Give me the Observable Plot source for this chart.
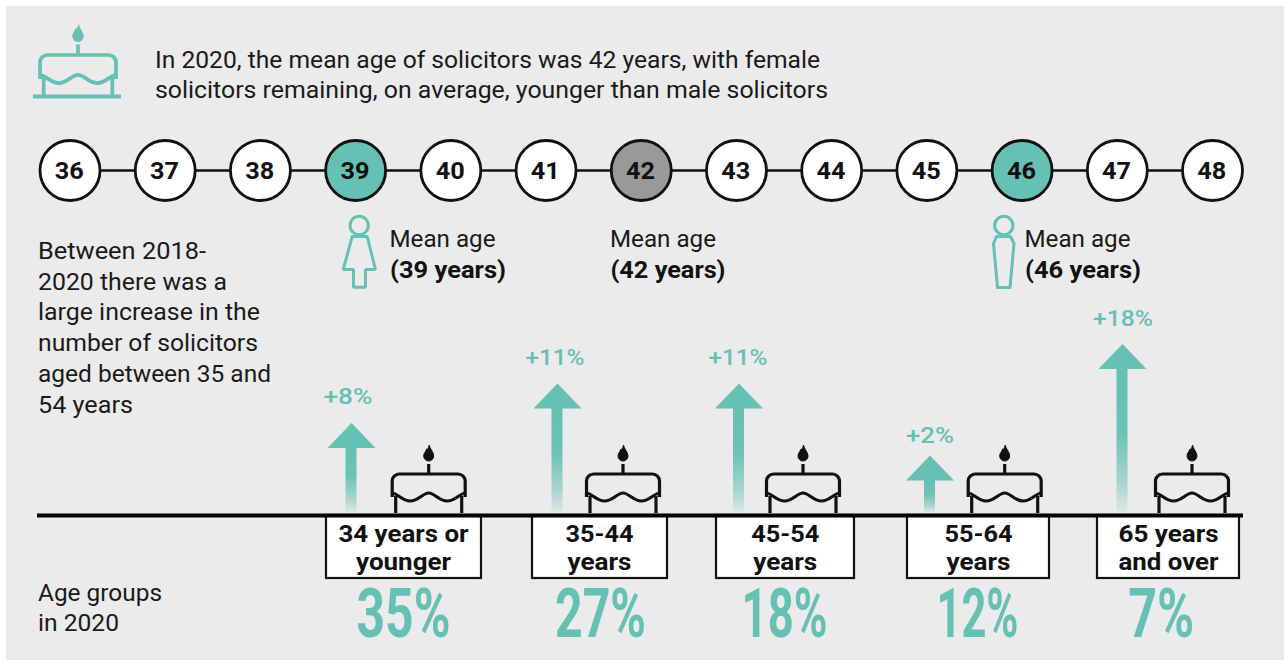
<!DOCTYPE html>
<html><head><meta charset="utf-8">
<style>html,body{margin:0;padding:0;background:#fff}svg{display:block}</style>
<script src="https://cdn.jsdelivr.net/npm/d3@7"></script>
<script src="https://cdn.jsdelivr.net/npm/@observablehq/plot@0.6"></script>
</head><body><div id="chart"></div>
<script>
// ---- data ----
const ages = [36,37,38,39,40,41,42,43,44,45,46,47,48];
const femaleMean = 39, overallMean = 42, maleMean = 46;
const groupLabels = [["34 years or","younger"],["35-44","years"],["45-54","years"],["55-64","years"],["65 years","and over"]];
const shares = [35,27,18,12,7];
const changes = [8,11,11,2,18];
const titleLines = ["In 2020, the mean age of solicitors was 42 years, with female","solicitors remaining, on average, younger than male solicitors"];
const noteLines = ["Between 2018-","2020 there was a","large increase in the","number of solicitors","aged between 35 and","54 years"];
const footLines = ["Age groups","in 2020"];

// ---- layout of the infographic ----
const W = 1284, H = 660, TEAL = "#66c0b3", INK = "#111", FONT = "Roboto, sans-serif";
const ageX = d3.scaleLinear([36,48],[69.5,1212]);
const growthTop = d3.scaleLinear([0,2,8,11,18],[513,455,422.5,383,343.5]);
const BASE = 515;
const boxes = [[326,481],[532,667],[716,854],[907,1049],[1097,1239]];
const arrowX = [351,557,738.5,929.5,1122];
const cakeX = [428.7,623,803,1004.7,1192];
const labelX = [348,555,738,930,1123];
const labelOff = [19,19,19,13,18];
const labelW = [49,59,59,48,60];
const boxTextX = [403,599,784.7,978,1168];
const boxTextW = [[130,95],[68,64],[68,64],[68,64],[100,100]];
const shareX = [403,600,784,977,1160.7];
const shareW = [94,91,86,82,66];
const titleW = [665,673], noteW = [168,189,222,220,233,95], footW = [124,81];

const groups = d3.range(5);
const fits = [];
function label(rows, opts) {
  rows.forEach(r => fits.push(r.w));
  return Plot.text(rows, {x:"x", y:"y", text:"t", lineAnchor:"bottom", fontFamily:FONT, ...opts});
}

const cakePath = "M-36.5,23V7A7,7 0 0 1 -29.5,0H29.5A7,7 0 0 1 36.5,7V23" +
  "M-37,19C-31,19 -27,27 -18.5,27C-10,27 -6,19 0,19C6,19 10,27 18.5,27C27,27 31,19 37,19" +
  "M-33,22V39M33,22V39M0,-10V0";
const flamePath = "M0.5,-29C1,-25 5,-22 5,-18A5,5 0 1 1 -5,-18C-5,-21 -3,-22 -2,-25C-1,-24 0,-26 0.5,-29Z";
function cake(cx, top, color, k, sw) {
  return (index, {x, y}) => {
    const g = d3.create("svg:g").attr("transform", `translate(${x(cx)},${y(top)}) scale(${k})`);
    g.append("path").attr("d", cakePath).attr("fill","none").attr("stroke",color).attr("stroke-width",sw).attr("stroke-linejoin","round");
    g.append("path").attr("d", flamePath).attr("fill",color).attr("stroke",color).attr("stroke-width",1);
    return g.node();
  };
}
const gradient = () => {
  const s = d3.create("svg:defs");
  const lg = s.append("linearGradient").attr("id","fade").attr("x1",0).attr("x2",0).attr("y1",0).attr("y2",1);
  [[0,1],[0.45,0.95],[0.8,0.5],[1,0.1]].forEach(([o,a]) =>
    lg.append("stop").attr("offset",o).attr("stop-color",TEAL).attr("stop-opacity",a));
  return s.node();
};

const heads = groups.flatMap(i => {
  const t = growthTop(changes[i]);
  return [[arrowX[i],t],[arrowX[i]+24,t+25],[arrowX[i]-24,t+25]].map(([x,y]) => ({x,y,i}));
});
const female = [[351.7,236],[366.7,236],[375,269],[365,269],[365,286.7],[353,286.7],[353,269],[342.7,269],[351.7,236]].map(([x,y])=>({x,y}));
const male = [[996,236],[1010,236],[1013.5,243],[1009.5,287],[997,287],[993,243],[996,236]].map(([x,y])=>({x,y}));

const plot = Plot.plot({
  width: W, height: H, margin: 0,
  x: {domain:[0,W], range:[0,W], axis:null},
  y: {domain:[0,H], range:[0,H], axis:null},
  marks: [
    gradient,
    Plot.rect([0], {x1:()=>6, x2:()=>W, y1:()=>6, y2:()=>H, fill:"#ebebeb"}),
    // header cake
    cake(78, 55, TEAL, 1.04, 3.6),
    Plot.ruleY([96], {x1:33, x2:121, stroke:TEAL, strokeWidth:4}),
    label(titleLines.map((t,i)=>({t, x:154.5, y:67.5+30*i, w:titleW[i]})), {fontSize:24, textAnchor:"start", fill:"#1a1a1a"}),
    // age line
    Plot.ruleY([170], {x1:ageX(36), x2:ageX(48), stroke:INK, strokeWidth:2.5}),
    Plot.dot(ages, {x:ageX, y:()=>170, r:30, stroke:INK, strokeWidth:2.8,
      fill:a => a===femaleMean||a===maleMean ? TEAL : a===overallMean ? "#999" : "#fff"}),
    label(ages.map(a=>({t:String(a), x:ageX(a)-0.7, y:178, w:29})), {fontSize:24, fontWeight:700, textAnchor:"middle", fill:INK}),
    // mean age callouts
    label([{t:"Mean age",x:389,y:246,w:106},{t:"Mean age",x:609.5,y:246,w:106},{t:"Mean age",x:1024,y:246,w:106}], {fontSize:23, textAnchor:"start", fill:"#1a1a1a"}),
    label([{t:`(${femaleMean} years)`,x:389.5,y:277,w:116},{t:`(${overallMean} years)`,x:610,y:277,w:115},{t:`(${maleMean} years)`,x:1024.5,y:277,w:116}], {fontSize:23, fontWeight:700, textAnchor:"start", fill:INK}),
    Plot.dot([0], {x:()=>358.7, y:()=>225, r:9.2, fill:"none", stroke:TEAL, strokeWidth:3}),
    Plot.line(female, {x:"x", y:"y", stroke:TEAL, strokeWidth:3, strokeLinejoin:"miter"}),
    Plot.dot([0], {x:()=>1003.3, y:()=>225, r:9.2, fill:"none", stroke:TEAL, strokeWidth:3}),
    Plot.line(male, {x:"x", y:"y", stroke:TEAL, strokeWidth:3}),
    // left notes
    label(noteLines.map((t,i)=>({t, x:37.5, y:258.5+30.7*i, w:noteW[i]})), {fontSize:23, textAnchor:"start", fill:"#1a1a1a"}),
    label(footLines.map((t,i)=>({t, x:37.5, y:600.5+30*i, w:footW[i]})), {fontSize:23, textAnchor:"start", fill:"#1a1a1a"}),
    // arrows
    Plot.rect(groups, {x1:i=>arrowX[i]-5.5, x2:i=>arrowX[i]+5.5, y1:i=>growthTop(changes[i])+24, y2:()=>512, fill:"url(#fade)"}),
    Plot.line(heads, {x:"x", y:"y", z:"i", fill:TEAL, stroke:"none"}),
    label(groups.map(i=>({t:`+${changes[i]}%`, x:labelX[i]-0.5, y:growthTop(changes[i])-labelOff[i], w:labelW[i]})), {fontSize:22, fontWeight:500, textAnchor:"middle", fill:TEAL}),
    // cakes
    ...groups.map(i => cake(cakeX[i], 474, INK, 1, 3.2)),
    // boxes
    Plot.rect(groups, {x1:i=>boxes[i][0], x2:i=>boxes[i][1], y1:()=>BASE, y2:()=>578, fill:"#fff", stroke:INK, strokeWidth:2.2}),
    Plot.ruleY([BASE], {x1:37, x2:1243, stroke:"#000", strokeWidth:4}),
    label(groups.flatMap(i=>groupLabels[i].map((t,j)=>({t, x:boxTextX[i], y:(j?569:541.5), w:boxTextW[i][j]}))), {fontSize:24, fontWeight:700, textAnchor:"middle", fill:INK}),
    // shares
    label(groups.map(i=>({t:`${shares[i]}%`, x:shareX[i], y:636, w:shareW[i]})), {fontSize:68, fontWeight:700, textAnchor:"middle", fill:TEAL})
  ]
});
plot.querySelectorAll("text").forEach((el,i) => {
  if (fits[i]) { el.setAttribute("textLength", fits[i]); el.setAttribute("lengthAdjust","spacingAndGlyphs"); }
});
document.getElementById("chart").append(plot);
</script></body></html>
